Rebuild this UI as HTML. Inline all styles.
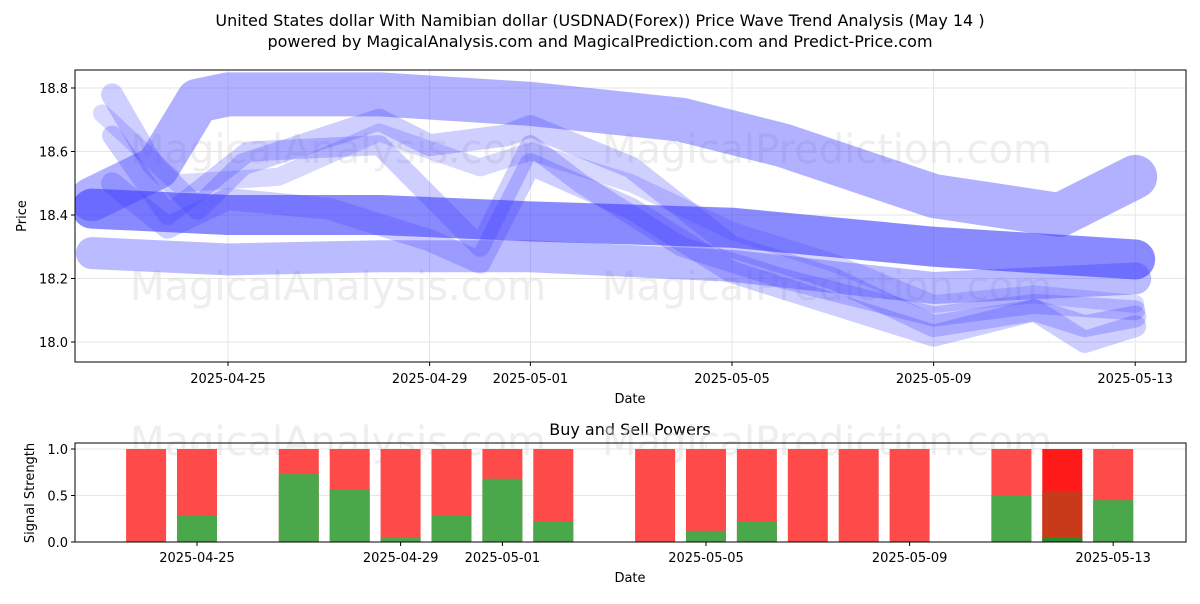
<!DOCTYPE html>
<html><head><meta charset="utf-8"><style>
body{margin:0;background:#fff;font-family:"DejaVu Sans",sans-serif}
svg text{font-family:"DejaVu Sans","Liberation Sans",sans-serif}
</style></head><body>
<svg id="c" width="1200" height="600" xmlns="http://www.w3.org/2000/svg">
<text x="600" y="26" text-anchor="middle" font-size="16">United States dollar With Namibian dollar (USDNAD(Forex)) Price Wave Trend Analysis (May 14 )</text>
<text x="600" y="47" text-anchor="middle" font-size="16">powered by MagicalAnalysis.com and MagicalPrediction.com and Predict-Price.com</text>
<g id="topPanel"></g>
<g id="botPanel"></g>
</svg>
<script>
const dayLabels=["2025-04-25","2025-04-29","2025-05-01","2025-05-05","2025-05-09","2025-05-13"];
const dayTicks=[0,4,6,10,14,18];
const priceTicks=[18.0,18.2,18.4,18.6,18.8];
const band1=[[-2.7,18.45],[-1.4,18.55],[-0.6,18.76],[0,18.78],[3,18.78],[6,18.75],[9,18.7],[11,18.62],[14,18.46],[16.5,18.4],[18,18.52]];
const band2=[[-2.7,18.42],[0,18.4],[3,18.4],[6,18.38],[10,18.36],[14,18.3],[18,18.26]];
const band3=[[-2.7,18.28],[0,18.26],[3,18.27],[6,18.27],[10,18.24],[14,18.17],[18,18.2]];
const wave1=[[-2.3,18.78],[-1.5,18.56],[-0.6,18.42],[0.3,18.56],[3,18.7],[4,18.62],[5.5,18.65],[6,18.68],[8,18.55],[10,18.3],[12,18.2],[14,18.05],[16,18.1],[17,18.05],[18,18.08]];
const wave2=[[-2.3,18.65],[-1.2,18.4],[0.4,18.6],[3,18.62],[5,18.3],[6,18.62],[7,18.5],[9,18.3],[11,18.2],[14,18.08],[16,18.12],[18,18.1]];
const wave3=[[-2.3,18.5],[-1.2,18.36],[0,18.45],[2,18.42],[4,18.32],[5,18.25],[6,18.56],[8,18.42],[10,18.22],[14,18.02],[16,18.1],[17,18.0],[18,18.05]];
const wave4=[[-2.5,18.72],[-1,18.5],[1,18.52],[3,18.66],[5,18.55],[6,18.6],[8,18.5],[10,18.35],[12,18.25],[14,18.12],[16,18.15],[18,18.12]];
const barDays=[-1,0,2,3,4,5,6,7,9,10,11,12,13,14,16,17,18];
const buyVals=[0,0.28,0.73,0.56,0.05,0.28,0.68,0.22,0,0.12,0.22,0,0,0,0.5,0.05,0.45];
const sigTicks=[0,0.5,1.0];
const sigLabels=["0.0","0.5","1.0"];
const NS="http://www.w3.org/2000/svg";
function mk(p,t,a){const e=document.createElementNS(NS,t);for(const k in a)e.setAttribute(k,a[k]);p.appendChild(e);return e;}
const X=d=>228+d*50.4;
const XB=d=>197+d*50.9;
const Y=v=>342-(v-18.0)*317.5;
const YB=v=>542-v*93;
const topG=document.getElementById('topPanel'),botG=document.getElementById('botPanel');
priceTicks.forEach(v=>{
 mk(topG,'line',{x1:75,x2:1186,y1:Y(v),y2:Y(v),stroke:'#e6e6e6'});
});
dayTicks.forEach(d=>{
 const g=mk(topG,'line',{x1:X(d),x2:X(d),y1:70,y2:362,stroke:'#e6e6e6'});
 
 
});
const wm=[[130,300,'MagicalAnalysis.com'],[602,300,'MagicalPrediction.com'],[130,163,'MagicalAnalysis.com'],[602,163,'MagicalPrediction.com']];
wm.forEach(w=>{const t=mk(topG,'text',{x:w[0],y:w[1],'font-size':40,fill:'#ddd','fill-opacity':0.5});t.textContent=w[2];
 
 });
const series=[[band1,44,0.4],[band2,40,0.6],[band3,32,0.35],[wave1,22,0.25],[wave2,20,0.25],[wave3,22,0.25],[wave4,18,0.2]];
series.forEach(s=>{
 const p=mk(topG,'polyline',{points:s[0].map(q=>X(q[0])+','+Y(q[1])).join(' '),fill:'none',stroke:'rgb(60,60,255)','stroke-width':s[1],'stroke-opacity':s[2],'stroke-linecap':'round','stroke-linejoin':'round'});
 
 
});
mk(topG,'rect',{x:0,y:362.5,width:1200,height:60,fill:'#fff'});
mk(topG,'rect',{x:0,y:60,width:74.5,height:310,fill:'#fff'});
mk(topG,'rect',{x:1186.5,y:60,width:14,height:310,fill:'#fff'});
mk(topG,'rect',{x:70,y:50,width:1130,height:19.5,fill:'#fff'});
dayTicks.forEach((d,i)=>{mk(topG,'line',{x1:X(d),x2:X(d),y1:362,y2:366,stroke:'#000'});
 const t=mk(topG,'text',{x:X(d),y:383,'text-anchor':'middle','font-size':13});t.textContent=dayLabels[i];
 
 });
priceTicks.forEach(v=>{mk(topG,'line',{x1:71,x2:75,y1:Y(v),y2:Y(v),stroke:'#000'});
 const t=mk(topG,'text',{x:68,y:Y(v)+5,'text-anchor':'end','font-size':13});t.textContent=v.toFixed(1);
 
 });
const fr=mk(topG,'rect',{x:75,y:70,width:1111,height:292,fill:'none',stroke:'#000'});


let t=mk(topG,'text',{x:630,y:403,'text-anchor':'middle','font-size':13});t.textContent='Date';


t=mk(topG,'text',{x:26,y:216,'text-anchor':'middle','font-size':13,transform:'rotate(-90 26 216)'});t.textContent='Price';


// bottom
t=mk(botG,'text',{x:630,y:435,'text-anchor':'middle','font-size':16});t.textContent='Buy and Sell Powers';


dayTicks.forEach((d,i)=>{mk(botG,'line',{x1:XB(d),x2:XB(d),y1:443,y2:542,stroke:'#e6e6e6'});
 mk(botG,'line',{x1:XB(d),x2:XB(d),y1:542,y2:546,stroke:'#000'});
 const t=mk(botG,'text',{x:XB(d),y:562,'text-anchor':'middle','font-size':13});t.textContent=dayLabels[i];
 
 });
sigTicks.forEach((v,i)=>{mk(botG,'line',{x1:75,x2:1186,y1:YB(v),y2:YB(v),stroke:'#e6e6e6'});
 mk(botG,'line',{x1:71,x2:75,y1:YB(v),y2:YB(v),stroke:'#000'});
 const t=mk(botG,'text',{x:68,y:YB(v)+5,'text-anchor':'end','font-size':13});t.textContent=sigLabels[i];
 
 });
[[130,455,'MagicalAnalysis.com'],[602,455,'MagicalPrediction.com']].forEach(w=>{const t=mk(botG,'text',{x:w[0],y:w[1],'font-size':40,fill:'#ddd','fill-opacity':0.5});t.textContent=w[2];
 
 });
barDays.forEach((d,i)=>{
 const cx=XB(d),w=40,b=buyVals[i];
 const special=(d===17);
 const r=mk(botG,'rect',{x:cx-w/2,y:YB(1),width:w,height:YB(0)-YB(1),fill:special?'#ff1a1a':'#ff4a4a'});
 
 
 if(special){const q=mk(botG,'rect',{x:cx-w/2,y:YB(0.55),width:w,height:YB(0)-YB(0.55),fill:'#c83a1a'});
  
  }
 const g=mk(botG,'rect',{x:cx-w/2,y:YB(b),width:w,height:YB(0)-YB(b),fill:special?'#2a8a2a':'#4aa84a'});
 
 
});
const f2=mk(botG,'rect',{x:75,y:443,width:1111,height:99,fill:'none',stroke:'#000'});


t=mk(botG,'text',{x:630,y:582,'text-anchor':'middle','font-size':13});t.textContent='Date';


t=mk(botG,'text',{x:34,y:493,'text-anchor':'middle','font-size':13,transform:'rotate(-90 34 493)'});t.textContent='Signal Strength';


</script>
</body></html>
